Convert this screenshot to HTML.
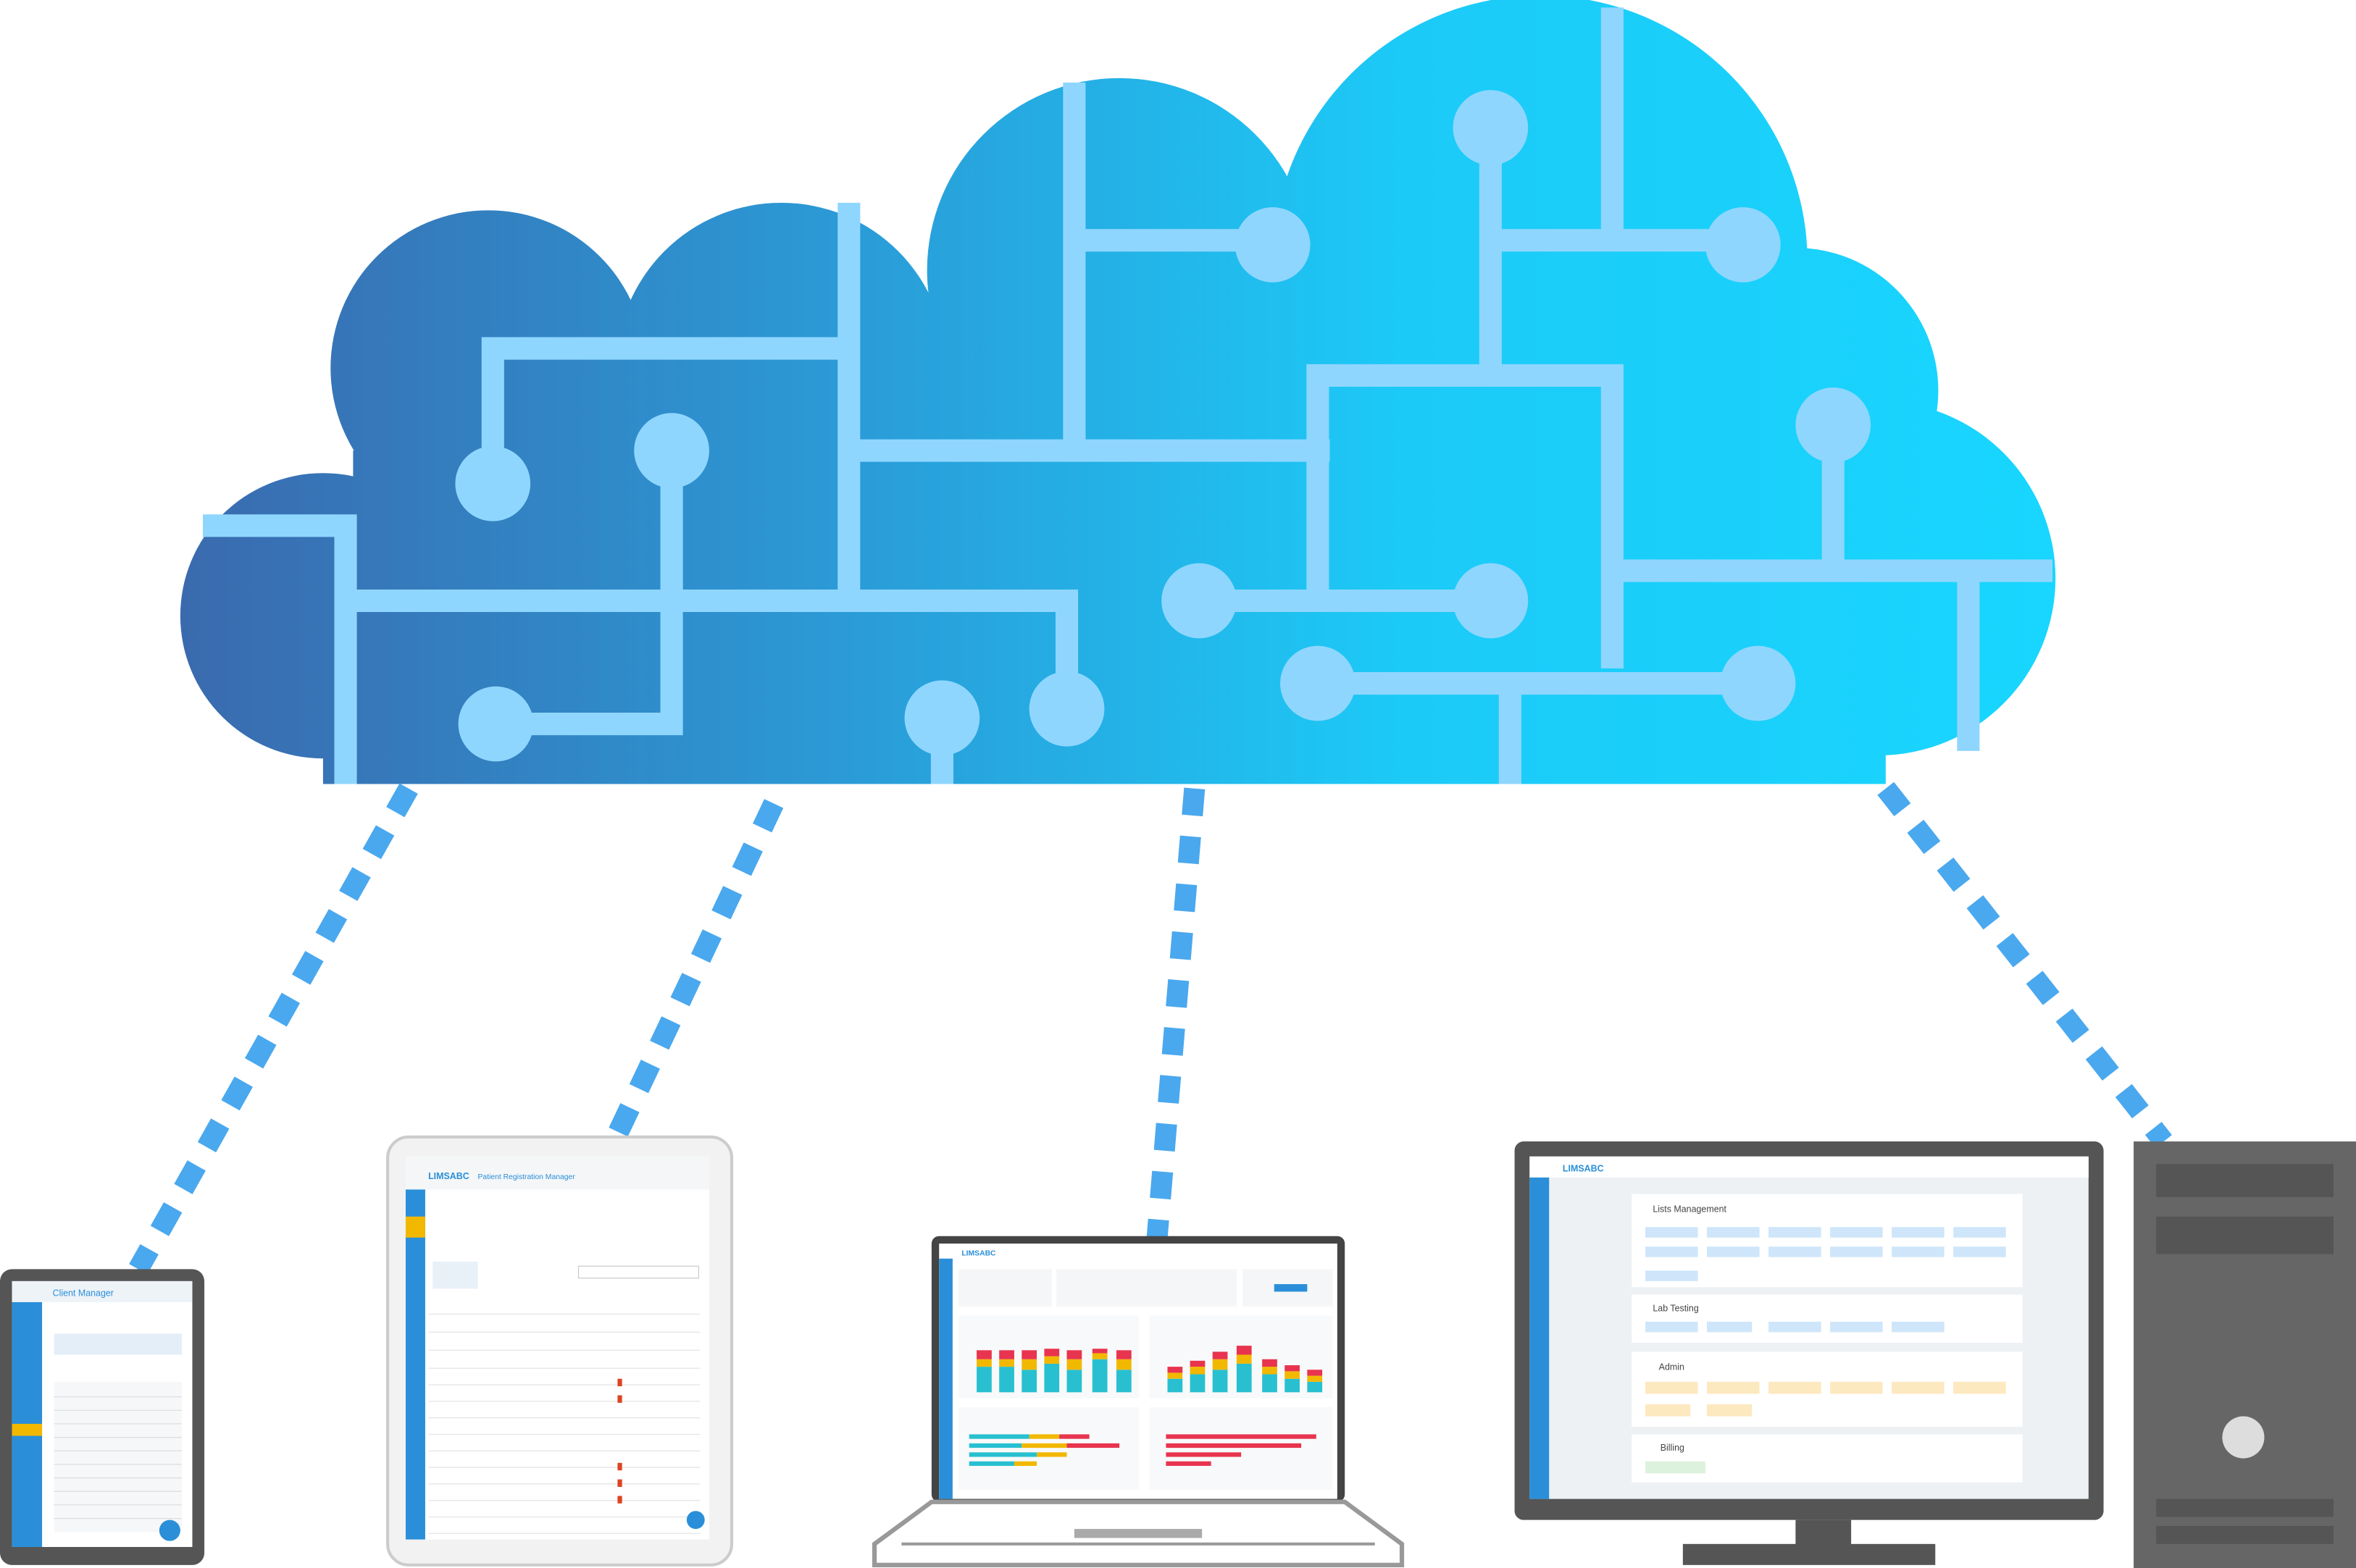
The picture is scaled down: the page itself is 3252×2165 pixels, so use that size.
<!DOCTYPE html>
<html><head><meta charset="utf-8"><style>
html,body{margin:0;padding:0;background:#fff;}
svg{display:block;}
text{font-family:"Liberation Sans",sans-serif;}
</style></head><body>
<svg width="3252" height="2165" viewBox="0 0 1568 1044" preserveAspectRatio="none" xmlns="http://www.w3.org/2000/svg">
<defs>
<linearGradient id="g" gradientUnits="userSpaceOnUse" x1="120" y1="0" x2="1370" y2="0">
<stop offset="0" stop-color="#3a6aae"/><stop offset="0.35" stop-color="#2b9ad6"/><stop offset="0.65" stop-color="#1ccaf7"/><stop offset="1" stop-color="#18d6ff"/>
</linearGradient>
</defs>
<g fill="url(#g)">
<circle cx="215" cy="410" r="95"/>
<circle cx="325" cy="245" r="105"/>
<circle cx="520" cy="245" r="110"/>
<circle cx="745" cy="180" r="128"/>
<circle cx="1025" cy="175" r="178"/>
<circle cx="1195" cy="260" r="95"/>
<circle cx="1250" cy="385" r="118"/>
<rect x="215" y="330" width="1040" height="192"/>
<rect x="235" y="300" width="1020" height="60"/>
<rect x="320" y="200" width="900" height="150"/>
</g>
<g stroke="#8fd6ff" stroke-width="15" fill="none" stroke-linecap="butt">
<path d="M328 322V232H565"/>
<path d="M565 135V395"/>
<path d="M565 300H885"/>
<path d="M715 55V300"/>
<path d="M715 160H847"/>
<path d="M992 85V250"/>
<path d="M992 160H1160"/>
<path d="M1073 5V160"/>
<path d="M877 395V250H1073V445"/>
<path d="M798 400H992"/>
<path d="M1073 380H1366"/>
<path d="M1220 283V380"/>
<path d="M1310 380V500"/>
<path d="M877 455H1170"/>
<path d="M1005 455V522"/>
<path d="M135 350H230V522"/>
<path d="M230 400H710V472"/>
<path d="M447 300V482H330"/>
<path d="M627 478V522"/>
</g>
<g fill="#8fd6ff">
<circle cx="328" cy="322" r="25"/><circle cx="447" cy="300" r="25"/><circle cx="847" cy="163" r="25"/>
<circle cx="992" cy="85" r="25"/><circle cx="1160" cy="163" r="25"/><circle cx="1220" cy="283" r="25"/>
<circle cx="798" cy="400" r="25"/><circle cx="992" cy="400" r="25"/><circle cx="877" cy="455" r="25"/>
<circle cx="1170" cy="455" r="25"/><circle cx="330" cy="482" r="25"/><circle cx="627" cy="478" r="25"/><circle cx="710" cy="472" r="25"/>
</g>
<g stroke="#4aa8ee" stroke-width="14" stroke-dasharray="18 14" fill="none">
<path d="M272 525L92 845"/>
<path d="M515 535L410 757"/>
<path d="M795 525L770 825"/>
<path d="M1255 525L1440 760"/>
</g>
<!-- phone -->
<rect x="0" y="845" width="136" height="197" rx="8" fill="#555"/>
<rect x="8" y="853" width="120" height="177" fill="#fff"/>
<rect x="8" y="853" width="120" height="14" fill="#eef3f8"/>
<text x="35" y="863" font-size="6" fill="#2a8fd8">Client Manager</text>
<rect x="8" y="867" width="20" height="163" fill="#2a8fd8"/>
<rect x="8" y="948" width="20" height="8" fill="#f2b800"/>
<rect x="36" y="888" width="85" height="14" fill="#e4eef8"/>
<rect x="36" y="920" width="85" height="100" fill="#f5f7f9"/>
<g stroke="#ddd" stroke-width="0.6"><path d="M36 930H121M36 939H121M36 948H121M36 957H121M36 966H121M36 975H121M36 984H121M36 993H121M36 1002H121M36 1011H121"/></g>
<circle cx="113" cy="1019" r="7" fill="#2a8fd8"/>
<!-- tablet -->
<rect x="258" y="757" width="229" height="285" rx="14" fill="#f2f2f2" stroke="#ccc" stroke-width="2"/>
<rect x="270" y="770" width="202" height="255" fill="#fff"/>
<rect x="270" y="770" width="202" height="22" fill="#f4f6f8"/>
<text x="285" y="785" font-size="6" fill="#2a8fd8" font-weight="bold">LIMSABC</text>
<text x="318" y="785" font-size="5" fill="#2a8fd8">Patient Registration Manager</text>
<rect x="270" y="792" width="13" height="233" fill="#2a8fd8"/>
<rect x="270" y="810" width="13" height="14" fill="#f2b800"/>
<rect x="288" y="840" width="30" height="18" fill="#e8f0f8"/>
<rect x="385" y="843" width="80" height="8" fill="#fff" stroke="#ccc" stroke-width="0.6"/>
<g stroke="#e4e4e4" stroke-width="0.6"><path d="M285 875H466M285 887H466M285 899H466M285 911H466M285 922H466M285 933H466M285 944H466M285 955H466M285 966H466M285 977H466M285 988H466M285 999H466M285 1010H466M285 1021H466"/></g>
<g fill="#d42"><rect x="411" y="918" width="3" height="5"/><rect x="411" y="929" width="3" height="5"/><rect x="411" y="974" width="3" height="5"/><rect x="411" y="985" width="3" height="5"/><rect x="411" y="996" width="3" height="5"/></g>
<circle cx="463" cy="1012" r="6" fill="#2a8fd8"/>
<!-- laptop -->
<rect x="620" y="823" width="275" height="177" rx="5" fill="#444"/>
<rect x="625" y="828" width="265" height="170" fill="#fff"/>
<text x="640" y="836" font-size="5" fill="#2a8fd8" font-weight="bold">LIMSABC</text>
<rect x="625" y="838" width="9" height="160" fill="#2a8fd8"/>
<rect x="638" y="845" width="62" height="25" fill="#f4f6f8"/><rect x="703" y="845" width="120" height="25" fill="#f4f6f8"/><rect x="827" y="845" width="60" height="25" fill="#f4f6f8"/>
<rect x="848" y="855" width="22" height="5" fill="#2a8fd8"/>
<rect x="638" y="876" width="120" height="55" fill="#f8f9fa"/><rect x="765" y="876" width="122" height="55" fill="#f8f9fa"/>
<g fill="#28c0d0"><rect x="650" y="910" width="10" height="17"/><rect x="665" y="910" width="10" height="17"/><rect x="680" y="912" width="10" height="15"/><rect x="695" y="908" width="10" height="19"/><rect x="710" y="912" width="10" height="15"/><rect x="727" y="905" width="10" height="22"/><rect x="743" y="912" width="10" height="15"/>
<rect x="777" y="918" width="10" height="9"/><rect x="792" y="915" width="10" height="12"/><rect x="807" y="912" width="10" height="15"/><rect x="823" y="908" width="10" height="19"/><rect x="840" y="915" width="10" height="12"/><rect x="855" y="918" width="10" height="9"/><rect x="870" y="920" width="10" height="7"/></g>
<g fill="#f2b800"><rect x="650" y="905" width="10" height="5"/><rect x="665" y="905" width="10" height="5"/><rect x="680" y="905" width="10" height="7"/><rect x="695" y="903" width="10" height="5"/><rect x="710" y="905" width="10" height="7"/><rect x="727" y="901" width="10" height="4"/><rect x="743" y="905" width="10" height="7"/>
<rect x="777" y="914" width="10" height="4"/><rect x="792" y="910" width="10" height="5"/><rect x="807" y="905" width="10" height="7"/><rect x="823" y="902" width="10" height="6"/><rect x="840" y="910" width="10" height="5"/><rect x="855" y="913" width="10" height="5"/><rect x="870" y="916" width="10" height="4"/></g>
<g fill="#e8344e"><rect x="650" y="899" width="10" height="6"/><rect x="665" y="899" width="10" height="6"/><rect x="680" y="899" width="10" height="6"/><rect x="695" y="898" width="10" height="5"/><rect x="710" y="899" width="10" height="6"/><rect x="727" y="898" width="10" height="3"/><rect x="743" y="899" width="10" height="6"/>
<rect x="777" y="910" width="10" height="4"/><rect x="792" y="906" width="10" height="4"/><rect x="807" y="900" width="10" height="5"/><rect x="823" y="896" width="10" height="6"/><rect x="840" y="905" width="10" height="5"/><rect x="855" y="909" width="10" height="4"/><rect x="870" y="912" width="10" height="4"/></g>
<rect x="638" y="937" width="120" height="55" fill="#f8f9fa"/><rect x="765" y="937" width="122" height="55" fill="#f8f9fa"/>
<g><rect x="645" y="955" width="40" height="3" fill="#28c0d0"/><rect x="685" y="955" width="20" height="3" fill="#f2b800"/><rect x="705" y="955" width="20" height="3" fill="#e8344e"/>
<rect x="645" y="961" width="35" height="3" fill="#28c0d0"/><rect x="680" y="961" width="30" height="3" fill="#f2b800"/><rect x="710" y="961" width="35" height="3" fill="#e8344e"/>
<rect x="645" y="967" width="45" height="3" fill="#28c0d0"/><rect x="690" y="967" width="20" height="3" fill="#f2b800"/>
<rect x="645" y="973" width="30" height="3" fill="#28c0d0"/><rect x="675" y="973" width="15" height="3" fill="#f2b800"/>
<rect x="776" y="955" width="100" height="3" fill="#e8344e"/><rect x="776" y="961" width="90" height="3" fill="#e8344e"/><rect x="776" y="967" width="50" height="3" fill="#e8344e"/><rect x="776" y="973" width="30" height="3" fill="#e8344e"/></g>
<polygon points="620,1000 895,1000 933,1028 933,1042 582,1042 582,1028" fill="#fff" stroke="#999" stroke-width="3"/>
<path d="M600 1028H915" stroke="#999" stroke-width="2"/>
<rect x="715" y="1018" width="85" height="6" fill="#aaa"/>
<!-- monitor -->
<rect x="1008" y="760" width="392" height="252" rx="6" fill="#555"/>
<rect x="1018" y="770" width="372" height="228" fill="#eef1f4"/>
<rect x="1018" y="770" width="372" height="14" fill="#fff"/>
<text x="1040" y="780" font-size="6" fill="#2a8fd8" font-weight="bold">LIMSABC</text>
<rect x="1018" y="784" width="13" height="214" fill="#2a8fd8"/>
<rect x="1086" y="795" width="260" height="62" fill="#fff"/>
<text x="1100" y="807" font-size="6" fill="#444">Lists Management</text>
<g fill="#cfe6fa"><rect x="1095" y="817" width="35" height="7"/><rect x="1136" y="817" width="35" height="7"/><rect x="1177" y="817" width="35" height="7"/><rect x="1218" y="817" width="35" height="7"/><rect x="1259" y="817" width="35" height="7"/><rect x="1300" y="817" width="35" height="7"/>
<rect x="1095" y="830" width="35" height="7"/><rect x="1136" y="830" width="35" height="7"/><rect x="1177" y="830" width="35" height="7"/><rect x="1218" y="830" width="35" height="7"/><rect x="1259" y="830" width="35" height="7"/><rect x="1300" y="830" width="35" height="7"/><rect x="1095" y="846" width="35" height="7"/></g>
<rect x="1086" y="862" width="260" height="32" fill="#fff"/>
<text x="1100" y="873" font-size="6" fill="#444">Lab Testing</text>
<g fill="#cfe6fa"><rect x="1095" y="880" width="35" height="7"/><rect x="1136" y="880" width="30" height="7"/><rect x="1177" y="880" width="35" height="7"/><rect x="1218" y="880" width="35" height="7"/><rect x="1259" y="880" width="35" height="7"/></g>
<rect x="1086" y="900" width="260" height="50" fill="#fff"/>
<text x="1104" y="912" font-size="6" fill="#444">Admin</text>
<g fill="#fde9c0"><rect x="1095" y="920" width="35" height="8"/><rect x="1136" y="920" width="35" height="8"/><rect x="1177" y="920" width="35" height="8"/><rect x="1218" y="920" width="35" height="8"/><rect x="1259" y="920" width="35" height="8"/><rect x="1300" y="920" width="35" height="8"/><rect x="1095" y="935" width="30" height="8"/><rect x="1136" y="935" width="30" height="8"/></g>
<rect x="1086" y="955" width="260" height="32" fill="#fff"/>
<text x="1105" y="966" font-size="6" fill="#444">Billing</text>
<rect x="1095" y="973" width="40" height="8" fill="#ddf2dd"/>
<rect x="1195" y="1012" width="37" height="18" fill="#555"/>
<rect x="1120" y="1028" width="168" height="14" fill="#555"/>
<!-- tower -->
<rect x="1420" y="760" width="148" height="284" fill="#666"/>
<rect x="1435" y="775" width="118" height="22" fill="#555"/>
<rect x="1435" y="810" width="118" height="25" fill="#555"/>
<circle cx="1493" cy="957" r="14" fill="#ddd"/>
<rect x="1435" y="998" width="118" height="12" fill="#555"/>
<rect x="1435" y="1016" width="118" height="12" fill="#555"/>
</svg>
</body></html>
